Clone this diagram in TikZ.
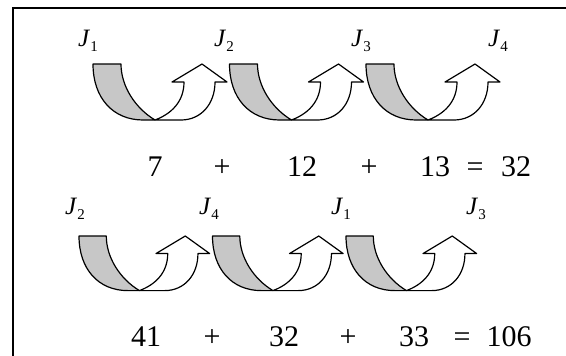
\documentclass[tikz,border=0pt]{standalone}
\usepackage{fontspec}
\setmainfont{Liberation Serif}
\newcommand{\Jsub}[1]{{\itshape J}\kern1pt\raisebox{-5pt}{\fontsize{15}{15}\selectfont #1}}
\tikzset{
  outl/.style={draw=black, line width=1.2pt, line join=round},
  turnarrow/.pic={
    \filldraw[outl, fill=black!22] (0,0) -- (28,0) .. controls (28,22) and (42,44) .. (62,56)
      -- (50,56) .. controls (20,56) and (0,34) .. (0,0) -- cycle;
    \filldraw[outl, fill=white] (62,56) -- (88,56) .. controls (108,56) and (122,40) .. (122,18)
      -- (134,18) -- (109,0) -- (79,18) -- (91,18) .. controls (91,38) and (78,50) .. (62,56) -- cycle;
  },
  jlab/.style={anchor=base, font=\fontsize{25}{26}\selectfont, inner sep=0pt},
  numlab/.style={anchor=base, font=\fontsize{30}{32}\selectfont, inner sep=0pt},
  framel/.style={draw=black, line width=2pt}
}
\begin{document}
\begin{tikzpicture}[x=1pt,y=-1pt]
\useasboundingbox (0,0) rectangle (566,356);
\draw[framel] (12.7,357) -- (12.7,8.3) -- (567,8.3);
% top row
\pic at (93,64) {turnarrow};
\pic at (229.5,64) {turnarrow};
\pic at (366,64) {turnarrow};
\node[jlab] (ta) at (88,46) {\Jsub{1}};
\node[jlab] (tb) at (224,46) {\Jsub{2}};
\node[jlab] (tc) at (361,46) {\Jsub{3}};
\node[jlab] (td) at (498,46) {\Jsub{4}};
\node[numlab] (n1) at (155,176) {7};
\node[numlab] (p1) at (222,176) {+};
\node[numlab] (n2) at (302,176) {12};
\node[numlab] (p2) at (369,176) {+};
\node[numlab] (n3) at (435,176) {13};
\node[numlab] (e1) at (475,176) {=};
\node[numlab] (s1) at (516,176) {32};
% bottom row
\pic[scale=0.975] at (79,236) {turnarrow};
\pic[scale=0.975] at (212.5,236) {turnarrow};
\pic[scale=0.975] at (346,236) {turnarrow};
\node[jlab] (ba) at (75,214) {\Jsub{2}};
\node[jlab] (bb) at (209,214) {\Jsub{4}};
\node[jlab] (bc) at (341,214) {\Jsub{1}};
\node[jlab] (bd) at (476,214) {\Jsub{3}};
\node[numlab] (m1) at (146,346) {41};
\node[numlab] (q1) at (212,346) {+};
\node[numlab] (m2) at (284,346) {32};
\node[numlab] (q2) at (348,346) {+};
\node[numlab] (m3) at (414,346) {33};
\node[numlab] (e2) at (462,346) {=};
\node[numlab] (s2) at (509,346) {106};
\end{tikzpicture}
\end{document}
